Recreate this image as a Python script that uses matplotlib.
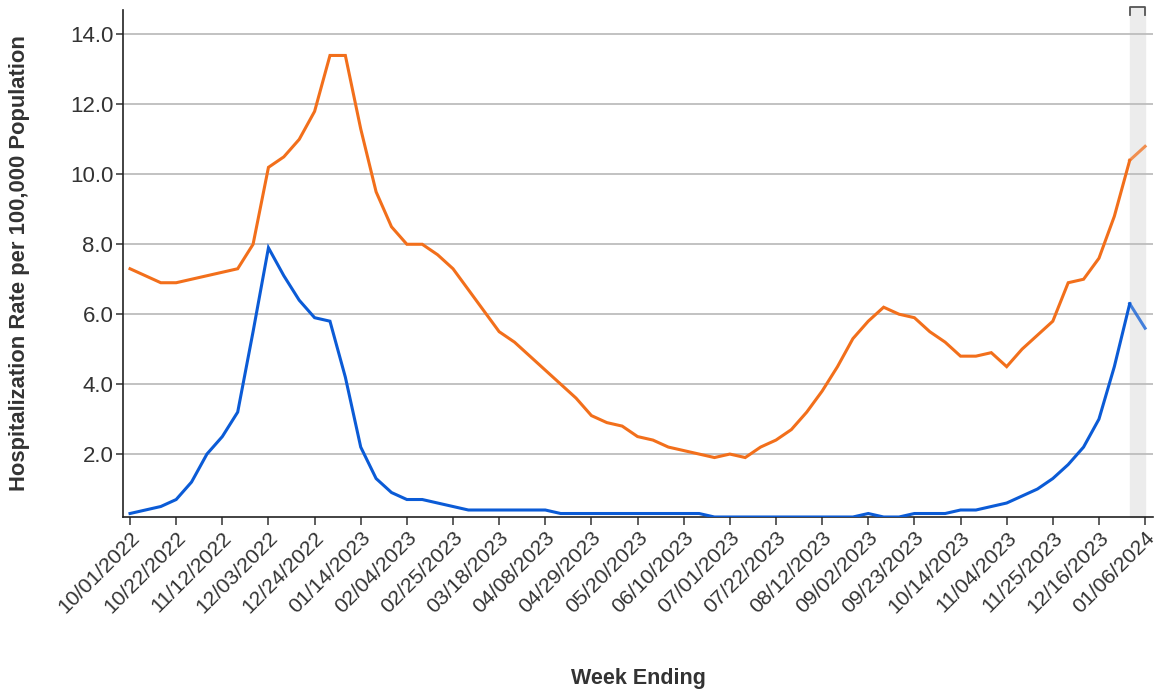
import numpy as np
import pandas as pd
import matplotlib
matplotlib.use("Agg")
import matplotlib.pyplot as plt
import matplotlib.transforms as mtransforms

plt.rcParams['font.family'] = ['Liberation Sans', 'DejaVu Sans']

# weekly data, week ending 10/01/2022 .. 01/06/2024
week_ending = pd.date_range('2022-10-01', periods=67, freq='7D')

rate_orange = [7.3, 7.1, 6.9, 6.9, 7.0, 7.1, 7.2, 7.3, 8.0, 10.2,
               10.5, 11.0, 11.8, 13.4, 13.4, 11.3, 9.5, 8.5, 8.0, 8.0,
               7.7, 7.3, 6.7, 6.1, 5.5, 5.2, 4.8, 4.4, 4.0, 3.6,
               3.1, 2.9, 2.8, 2.5, 2.4, 2.2, 2.1, 2.0, 1.9, 2.0,
               1.9, 2.2, 2.4, 2.7, 3.2, 3.8, 4.5, 5.3, 5.8, 6.2,
               6.0, 5.9, 5.5, 5.2, 4.8, 4.8, 4.9, 4.5, 5.0, 5.4,
               5.8, 6.9, 7.0, 7.6, 8.8, 10.4, 10.8]

rate_blue = [0.3, 0.4, 0.5, 0.7, 1.2, 2.0, 2.5, 3.2, 5.5, 7.9,
             7.1, 6.4, 5.9, 5.8, 4.2, 2.2, 1.3, 0.9, 0.7, 0.7,
             0.6, 0.5, 0.4, 0.4, 0.4, 0.4, 0.4, 0.4, 0.3, 0.3,
             0.3, 0.3, 0.3, 0.3, 0.3, 0.3, 0.3, 0.3, 0.2, 0.2,
             0.2, 0.2, 0.2, 0.2, 0.2, 0.2, 0.2, 0.2, 0.3, 0.2,
             0.2, 0.3, 0.3, 0.3, 0.4, 0.4, 0.5, 0.6, 0.8, 1.0,
             1.3, 1.7, 2.2, 3.0, 4.5, 6.3, 5.6]

y_ticks = [2, 4, 6, 8, 10, 12, 14]

ORANGE = '#f26f1b'
BLUE = '#0b5bd6'
TXT = '#333333'

fig = plt.figure(figsize=(11.57, 6.93), dpi=100)
ax = fig.add_axes([123/1157, 1 - 517/693, 1030/1157, 507/693])

# shaded band for the latest (preliminary) week
ax.axvspan(week_ending[-2], week_ending[-1], ymin=0, ymax=1.006,
           color='#ececec', zorder=0, clip_on=False)
trans = mtransforms.blended_transform_factory(ax.transData, ax.transAxes)
ax.plot([week_ending[-2], week_ending[-2], week_ending[-1], week_ending[-1]],
        [0.99, 1.006, 1.006, 0.99], color='#555555', lw=1.3,
        transform=trans, clip_on=False, zorder=5)

for yt in y_ticks:
    ax.axhline(yt, color='#bdbdbd', lw=1.3, zorder=1)

ax.plot(week_ending[:-1], rate_orange[:-1], color=ORANGE, lw=2.2, zorder=3,
        solid_joinstyle='miter')
ax.plot(week_ending[-2:], rate_orange[-2:], color=ORANGE, lw=2.2, alpha=0.75, zorder=3)
ax.plot(week_ending[:-1], rate_blue[:-1], color=BLUE, lw=2.2, zorder=3,
        solid_joinstyle='miter')
ax.plot(week_ending[-2:], rate_blue[-2:], color=BLUE, lw=2.2, alpha=0.75, zorder=3)

ax.set_xlim(week_ending[0] - pd.Timedelta(days=3.2),
            week_ending[-1] + pd.Timedelta(days=3.6))
ax.set_ylim(0.2, 14.7)

ax.set_yticks(y_ticks)
ax.set_yticklabels([f"{v:.1f}" for v in y_ticks])
ax.set_xticks(week_ending[::3])
ax.set_xticklabels([d.strftime('%m/%d/%Y') for d in week_ending[::3]],
                   rotation=45, ha='right', rotation_mode='anchor')

for s in ['top', 'right']:
    ax.spines[s].set_visible(False)
for s in ['left', 'bottom']:
    ax.spines[s].set_color('#222222')
    ax.spines[s].set_linewidth(1.2)

ax.tick_params(axis='y', length=5, width=1.1, color='#333333', labelsize=16,
               labelcolor=TXT, pad=2)
ax.tick_params(axis='x', length=6, width=1.1, color='#333333', labelsize=15.3,
               labelcolor=TXT, pad=2)

ax.set_xlabel('Week Ending', fontsize=15.5, fontweight='bold', color=TXT)
ax.xaxis.set_label_coords(0.5, -0.318)
ax.xaxis.label.set_va('center')
ax.set_ylabel('Hospitalization Rate per 100,000 Population', fontsize=15.8,
              fontweight='bold', color=TXT)
ax.yaxis.set_label_coords(-0.1, 0.5)
ax.yaxis.label.set_va('center')

fig.savefig('out.png', dpi=100)
